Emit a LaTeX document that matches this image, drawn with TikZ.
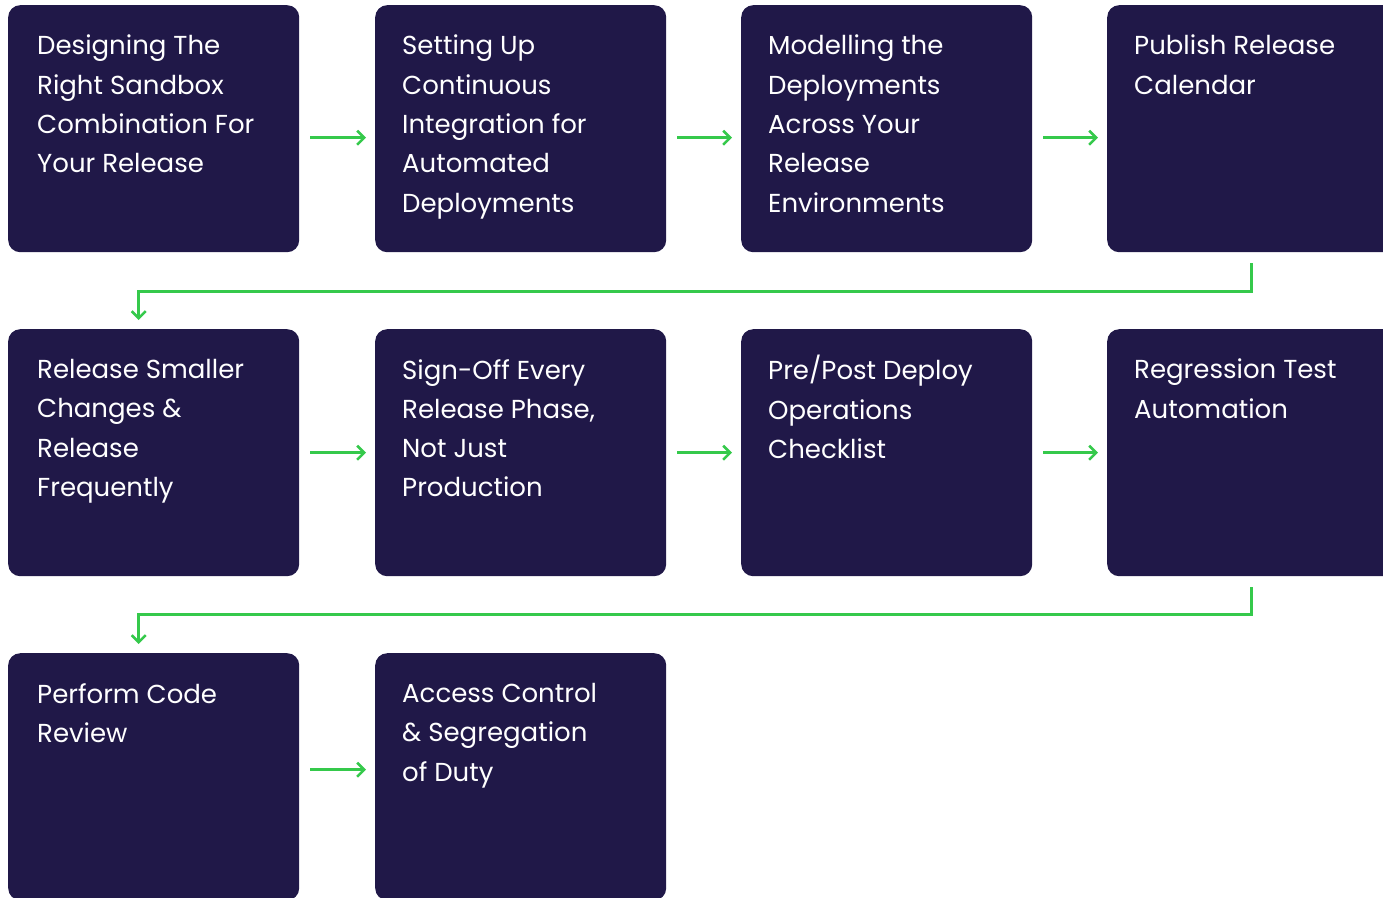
\documentclass[tikz,border=0pt]{standalone}
\usepackage{fontspec}
\setmainfont{Poppins}
\usetikzlibrary{arrows.meta}
\definecolor{navy}{HTML}{201848}
\definecolor{flowgreen}{HTML}{35C94B}
\tikzset{
  box/.style={fill=navy, draw=none, rounded corners=12pt, minimum width=291pt, minimum height=247pt, anchor=north west, inner sep=0pt},
  lbl/.style={text=white, align=left, anchor=north west, inner sep=0pt, font=\fontsize{26pt}{39.3pt}\selectfont},
  arr/.style={draw=flowgreen, line width=2.6pt, -{Straight Barb[length=7pt,width=14pt,line width=2.6pt]}},
}
\begin{document}
\begin{tikzpicture}[x=1pt,y=-1pt]
\useasboundingbox (0,0) rectangle (1383,897);
\clip (0,0) rectangle (1383,897);
% boxes
\node[box] (b1) at (8,5) {};
\node[box] (b2) at (375,5) {};
\node[box] (b3) at (741,5) {};
\node[box] (b4) at (1107,5) {};
\node[box] (b5) at (8,329) {};
\node[box] (b6) at (375,329) {};
\node[box] (b7) at (741,329) {};
\node[box] (b8) at (1107,329) {};
\node[box] (b9) at (8,653) {};
\node[box] (b10) at (375,653) {};
% labels
\node[lbl] (t1) at (37,35) {Designing The\\Right Sandbox\\Combination For\\Your Release};
\node[lbl] (t2) at (402,35) {Setting Up\\Continuous\\Integration for\\Automated\\Deployments};
\node[lbl] (t3) at (768,35) {Modelling the\\Deployments\\Across Your\\Release\\Environments};
\node[lbl] (t4) at (1134,35) {Publish Release\\Calendar};
\node[lbl] (t5) at (37,359) {Release Smaller\\Changes \&\\Release\\Frequently};
\node[lbl] (t6) at (402,359) {Sign-Off Every\\Release Phase,\\Not Just\\Production};
\node[lbl] (t7) at (768,355) {Pre/Post Deploy\\Operations\\Checklist};
\node[lbl] (t8) at (1134,359) {Regression Test\\Automation};
\node[lbl] (t9) at (37,683) {Perform Code\\Review};
\node[lbl] (t10) at (402,683) {Access Control\\\& Segregation\\of Duty};
% horizontal arrows
\draw[arr] ([xshift=11pt,yshift=-9pt]b1.east) -- ([xshift=-9pt,yshift=-9pt]b2.west);
\draw[arr] ([xshift=11pt,yshift=-9pt]b2.east) -- ([xshift=-9pt,yshift=-9pt]b3.west);
\draw[arr] ([xshift=11pt,yshift=-9pt]b3.east) -- ([xshift=-9pt,yshift=-9pt]b4.west);
\draw[arr] ([xshift=11pt]b5.east) -- ([xshift=-9pt]b6.west);
\draw[arr] ([xshift=11pt]b6.east) -- ([xshift=-9pt]b7.west);
\draw[arr] ([xshift=11pt]b7.east) -- ([xshift=-9pt]b8.west);
\draw[arr] ([xshift=11pt,yshift=7pt]b9.east) -- ([xshift=-9pt,yshift=7pt]b10.west);
% row connectors
\draw[arr] ([xshift=-1pt,yshift=-11pt]b4.south) -- ++(0,28) -| ([xshift=-15pt,yshift=9pt]b5.north);
\draw[arr] ([xshift=-1pt,yshift=-11pt]b8.south) -- ++(0,27) -| ([xshift=-15pt,yshift=9pt]b9.north);
\end{tikzpicture}
\end{document}
